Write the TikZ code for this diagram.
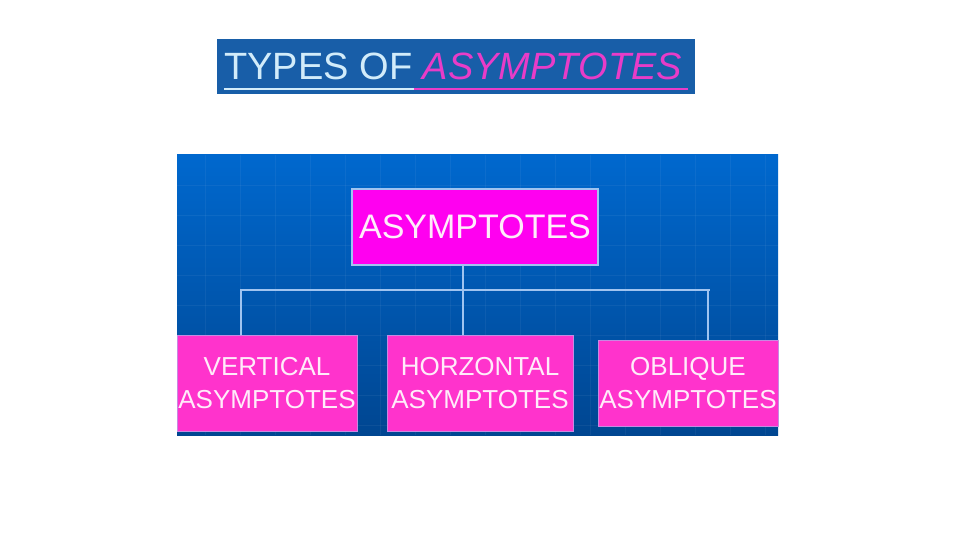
\documentclass[tikz,border=0pt]{standalone}
\usepackage{fontspec}
\setmainfont{Liberation Sans}
\usepackage{xcolor}
\usetikzlibrary{calc,positioning}
\definecolor{panelTop}{RGB}{0,104,206}
\definecolor{panelBot}{RGB}{0,70,145}
\definecolor{bannerBlue}{RGB}{24,94,168}
\definecolor{lightCyan}{RGB}{210,236,250}
\definecolor{titleMag}{RGB}{232,60,200}
\definecolor{topMag}{RGB}{255,0,240}
\definecolor{hotPink}{RGB}{255,51,204}
\definecolor{boxText}{RGB}{255,236,250}
\definecolor{linkBlue}{RGB}{160,196,240}

\begin{document}
\begin{tikzpicture}[x=0.5pt,y=-0.5pt,every node/.style={font=\fontsize{13}{16.5}\selectfont}]
  \tikzset{
    headbox/.style={draw=linkBlue,line width=0.6pt,fill=topMag,text=boxText,
      minimum width=123pt,minimum height=38pt,inner sep=0pt,font=\fontsize{17}{20}\selectfont},
    kindbox/.style={draw=linkBlue!60!hotPink,line width=0.5pt,fill=hotPink,text=boxText,
      align=center,inner sep=0pt},
    link/.style={draw=linkBlue,line width=0.6pt}
  }
  \useasboundingbox (0,0) rectangle (960,540);
  \fill[white] (0,0) rectangle (960,540);
  % title banner
  \fill[bannerBlue] (217,39) rectangle (695,94);
  \node[anchor=base west,inner sep=0pt,font=\fontsize{19}{22}\selectfont] (title) at (224,80)
    {\textcolor{lightCyan}{TYPES OF }\textcolor{titleMag}{\itshape ASYMPTOTES}};
  \draw[lightCyan,line width=1.2pt] (224,89) -- (414,89);
  \draw[titleMag,line width=1.2pt] (414,89) -- (688,89);
  % panel
  \shade[top color=panelTop,bottom color=panelBot] (177,155) rectangle (778,435);
  \foreach \x in {205,240,...,770}{\draw[white,opacity=0.05] (\x,155)--(\x,435);}
  \foreach \y in {185,215,...,430}{\draw[white,opacity=0.05] (177,\y)--(778,\y);}
  % boxes
  \node[headbox] (asym) at (475,227) {ASYMPTOTES};
  \node[kindbox,minimum width=90pt,minimum height=48pt] (vert) at (267,383)
    {VERTICAL\\ASYMPTOTES};
  \node[kindbox,minimum width=93pt,minimum height=48pt] (horz) at (480,383)
    {HORZONTAL\\ASYMPTOTES};
  \node[kindbox,minimum width=90pt,minimum height=43pt] (obli) at (688,383)
    {OBLIQUE\\ASYMPTOTES};
  % connectors
  \coordinate (jl) at (241,290);
  \coordinate (jm) at (463,290);
  \coordinate (jr) at (708,290);
  \draw[link] (asym.south -| jm) -- (horz.north -| jm);
  \draw[link] (vert.north -| jl) -- (jl) -- ($(jr)+(2,0)$);
  \draw[link] (jr) -- (obli.north -| jr);
\end{tikzpicture}
\end{document}
